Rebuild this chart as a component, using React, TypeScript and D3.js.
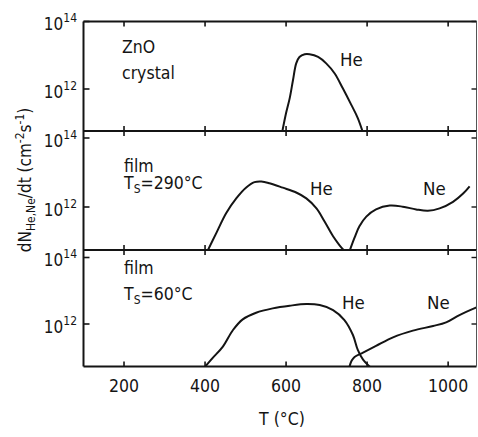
import React, { useRef, useEffect } from "react";
import * as d3 from "d3";

const W = 478;
const H = 437;
const FONT = "'DejaVu Sans Condensed', 'DejaVu Sans', sans-serif";
const INK = "#141414";

// temperature ticks (°C)
const xTicks = [200, 400, 600, 800, 1000];
const yTickExps = [12, 14];

// ZnO crystal, He (log10 of rate)
const crystalHeT = [590, 600, 609, 617, 625, 633, 646, 658, 679, 699, 720, 740, 761, 777, 790];
const crystalHe = [10.7, 11.29, 11.73, 12.26, 12.76, 12.95, 13.03, 13.03, 12.95, 12.76, 12.46, 12.02, 11.53, 11.14, 10.7];

// film Ts=290°C
const film290HeT = [405, 428, 452, 477, 501, 522, 539, 559, 592, 625, 650, 675, 695, 716, 732, 746];
const film290He = [10.7, 11.25, 11.82, 12.25, 12.56, 12.72, 12.74, 12.69, 12.56, 12.42, 12.25, 11.96, 11.58, 11.15, 10.89, 10.7];
const film290NeT = [756, 769, 781, 798, 822, 856, 888, 921, 950, 979, 1012, 1037, 1053];
const film290Ne = [10.7, 11.11, 11.44, 11.72, 11.93, 12.04, 12.01, 11.93, 11.89, 11.96, 12.15, 12.39, 12.6];

// film Ts=60°C
const film60HeT = [399, 419, 444, 469, 493, 526, 567, 609, 650, 683, 716, 744, 765, 777, 790, 808];
const film60He = [10.7, 10.98, 11.32, 11.82, 12.14, 12.34, 12.47, 12.55, 12.6, 12.57, 12.42, 12.12, 11.67, 11.22, 10.93, 10.7];
const film60NeT = [756, 762, 769, 790, 822, 864, 913, 963, 995, 1028, 1070];
const film60Ne = [10.7, 10.9, 11.01, 11.14, 11.34, 11.6, 11.8, 11.94, 12.05, 12.27, 12.5];

const panels = [
  {
    top: 21.5, bottom: 131, y12: 89, y14: 21.5,
    lines: [["He", crystalHeT, crystalHe]],
    notes: ["ZnO", "crystal"], noteY: [53, 79],
    labels: [["He", 340, 66]],
  },
  {
    top: 131, bottom: 250, y12: 207, y14: 138,
    lines: [["He", film290HeT, film290He], ["Ne", film290NeT, film290Ne]],
    notes: ["film", "T|S|=290°C"], noteY: [172, 189],
    labels: [["He", 310, 195], ["Ne", 423, 195]],
  },
  {
    top: 250, bottom: 366.5, y12: 324, y14: 257.5,
    lines: [["He", film60HeT, film60He], ["Ne", film60NeT, film60Ne]],
    notes: ["film", "T|S|=60°C"], noteY: [274, 300],
    labels: [["He", 342, 309], ["Ne", 427, 309]],
  },
];

const App = () => {
  const svgRef = useRef(null);

  useEffect(() => {
    const svg = d3.select(svgRef.current);
    svg.selectAll("*").remove();

    const x = d3.scaleLinear().domain([100, 1070]).range([83.5, 476.5]);
    const left = 83.5;
    const right = 476.5;

    const g = svg.append("g").style("font-family", FONT).style("font-stretch", "condensed");

    panels.forEach((p, pi) => {
      const y = d3.scaleLog().domain([1e12, 1e14]).range([p.y12, p.y14]);

      const clipId = `clip${pi}`;
      svg.append("defs").append("clipPath").attr("id", clipId)
        .append("rect").attr("x", left).attr("y", p.top).attr("width", right - left).attr("height", p.bottom - p.top);

      // curves
      const line = d3.line()
        .x((d) => x(d[0]))
        .y((d) => y(Math.pow(10, d[1])))
        .curve(d3.curveCatmullRom.alpha(0.5));
      p.lines.forEach(([, ts, vs]) => {
        g.append("path")
          .attr("clip-path", `url(#${clipId})`)
          .attr("d", line(ts.map((t, i) => [t, vs[i]])))
          .attr("fill", "none")
          .attr("stroke", INK)
          .attr("stroke-width", 2);
      });

      // frame
      g.append("line").attr("x1", left).attr("x2", right).attr("y1", p.top).attr("y2", p.top)
        .attr("stroke", INK).attr("stroke-width", 2);
      g.append("line").attr("x1", left).attr("x2", right).attr("y1", p.bottom).attr("y2", p.bottom)
        .attr("stroke", INK).attr("stroke-width", 2);
      g.append("line").attr("x1", left).attr("x2", left).attr("y1", p.top).attr("y2", p.bottom)
        .attr("stroke", INK).attr("stroke-width", 2);
      g.append("line").attr("x1", right).attr("x2", right).attr("y1", p.top).attr("y2", p.bottom)
        .attr("stroke", "#555").attr("stroke-width", 1);

      // x ticks, inward on top and bottom
      xTicks.forEach((t) => {
        g.append("line").attr("x1", x(t)).attr("x2", x(t)).attr("y1", p.top).attr("y2", p.top + 5)
          .attr("stroke", INK).attr("stroke-width", 1.6);
        g.append("line").attr("x1", x(t)).attr("x2", x(t)).attr("y1", p.bottom).attr("y2", p.bottom - 5)
          .attr("stroke", INK).attr("stroke-width", 1.6);
      });

      // y ticks and labels
      yTickExps.forEach((e) => {
        const yy = y(Math.pow(10, e));
        g.append("line").attr("x1", left).attr("x2", left + 6).attr("y1", yy).attr("y2", yy)
          .attr("stroke", INK).attr("stroke-width", 1.6);
        g.append("line").attr("x1", right).attr("x2", right - 5).attr("y1", yy).attr("y2", yy)
          .attr("stroke", INK).attr("stroke-width", 1.4);
        const txt = g.append("text").attr("x", 77).attr("y", yy + 8.5)
          .attr("text-anchor", "end").attr("fill", INK).attr("font-size", 17);
        txt.append("tspan").text("10");
        txt.append("tspan").attr("dy", -8).attr("font-size", 12).text(String(e));
      });

      // panel notes
      p.notes.forEach((n, i) => {
        const txt = g.append("text").attr("x", pi === 0 ? 122 : 124).attr("y", p.noteY[i])
          .attr("fill", INK).attr("font-size", 17.5);
        const parts = n.split("|");
        if (parts.length === 1) {
          txt.text(n);
        } else {
          txt.append("tspan").text(parts[0]);
          txt.append("tspan").attr("dy", 4).attr("font-size", 12).text(parts[1]);
          txt.append("tspan").attr("dy", -4).text(parts[2]);
        }
      });

      p.labels.forEach(([s, lx, ly]) => {
        g.append("text").attr("x", lx).attr("y", ly).attr("fill", INK).attr("font-size", 18.5).text(s);
      });
    });

    // x tick labels
    xTicks.forEach((t) => {
      g.append("text").attr("x", x(t)).attr("y", 392).attr("text-anchor", "middle")
        .attr("fill", INK).attr("font-size", 17.5).text(String(t));
    });

    g.append("text").attr("x", 282).attr("y", 425).attr("text-anchor", "middle")
      .attr("fill", INK).attr("font-size", 17.5).text("T (°C)");

    // y axis title
    const yt = g.append("text").attr("transform", "translate(31,180) rotate(-90)")
      .attr("text-anchor", "middle").attr("fill", INK).attr("font-size", 17);
    yt.append("tspan").text("dN");
    yt.append("tspan").attr("dy", 4).attr("font-size", 12).text("He,Ne");
    yt.append("tspan").attr("dy", -4).text("/dt (cm");
    yt.append("tspan").attr("dy", -7).attr("font-size", 12).text("-2");
    yt.append("tspan").attr("dy", 7).text("s");
    yt.append("tspan").attr("dy", -7).attr("font-size", 12).text("-1");
    yt.append("tspan").attr("dy", 7).text(")");
  }, []);

  return (
    <svg
      ref={svgRef}
      width={W}
      height={H}
      style={{ position: "absolute", left: 0, top: 0, background: "#fff" }}
    />
  );
};

export default App;
